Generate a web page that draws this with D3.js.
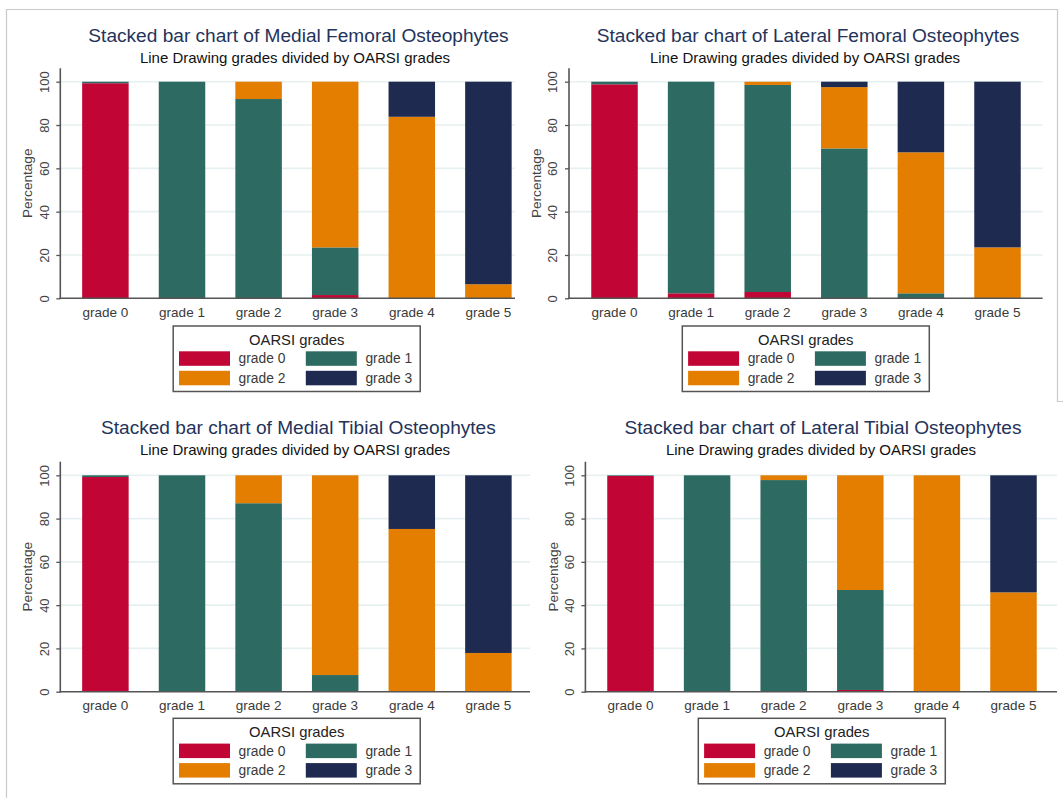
<!DOCTYPE html>
<html>
<head>
<meta charset="utf-8">
<script src="https://cdn.jsdelivr.net/npm/d3@7"></script>
<style>
  html, body { margin: 0; padding: 0; background: #ffffff; }
  svg { display: block; font-family: "Liberation Sans", Arial, sans-serif; }
</style>
</head>
<body>
<svg id="chart" width="1063" height="798"></svg>
<script>
// Line Drawing grades (x axis) and OARSI grades (stack series)
const categories = ["grade 0", "grade 1", "grade 2", "grade 3", "grade 4", "grade 5"];
const oarsiGrades = ["grade 0", "grade 1", "grade 2", "grade 3"];
const oarsiColors = ["#c10534", "#2d6b62", "#e37e00", "#1f2a50"];
const yTicks = [0, 20, 40, 60, 80, 100];

// Medial femoral: percentage of each OARSI grade per line drawing grade
const medFemG0 = [99.3, 0, 0, 1.5, 0, 0];
const medFemG1 = [0.7, 100, 92.0, 22.0, 0, 0];
const medFemG2 = [0, 0, 8.0, 76.5, 83.8, 6.5];
const medFemG3 = [0, 0, 0, 0, 16.2, 93.5];

// Lateral femoral
const latFemG0 = [98.8, 2.3, 2.9, 0, 0, 0];
const latFemG1 = [1.2, 97.7, 95.6, 69.2, 2.3, 0];
const latFemG2 = [0, 0, 1.5, 28.3, 65.1, 23.5];
const latFemG3 = [0, 0, 0, 2.5, 32.6, 76.5];

// Medial tibial
const medTibG0 = [99.2, 0, 0, 0, 0, 0];
const medTibG1 = [0.8, 100, 87.1, 7.7, 0, 0];
const medTibG2 = [0, 0, 12.9, 92.3, 75.2, 17.9];
const medTibG3 = [0, 0, 0, 0, 24.8, 82.1];

// Lateral tibial
const latTibG0 = [99.7, 0, 0, 0.8, 0, 0];
const latTibG1 = [0.3, 100, 97.8, 46.2, 0, 0];
const latTibG2 = [0, 0, 2.2, 53.0, 100, 45.9];
const latTibG3 = [0, 0, 0, 0, 0, 54.1];

const titles = [
  "Stacked bar chart of Medial Femoral Osteophytes",
  "Stacked bar chart of Lateral Femoral Osteophytes",
  "Stacked bar chart of Medial Tibial Osteophytes",
  "Stacked bar chart of Lateral Tibial Osteophytes"
];
const subtitle = "Line Drawing grades divided by OARSI grades";
const yAxisTitle = "Percentage";
const legendTitle = "OARSI grades";

const panelSeries = [
  [medFemG0, medFemG1, medFemG2, medFemG3],
  [latFemG0, latFemG1, latFemG2, latFemG3],
  [medTibG0, medTibG1, medTibG2, medTibG3],
  [latTibG0, latTibG1, latTibG2, latTibG3]
];

// Panel layout (each quadrant)
const layout = [
  { axisX: 60.3, axisEnd: 515, top: 68.3, y0: 298.3, y100: 81.7, c0: 105.4, titleX: 298.5, subX: 295, titleY: 41.7, subY: 62.5, legX: 173.2, legY: 326 },
  { axisX: 569, axisEnd: 1042.6, top: 68.3, y0: 298.3, y100: 81.7, c0: 614.5, titleX: 808, subX: 805, titleY: 41.7, subY: 62.5, legX: 682.3, legY: 326 },
  { axisX: 60.3, axisEnd: 530, top: 461.7, y0: 691.7, y100: 475.3, c0: 105.4, titleX: 298.4, subX: 295, titleY: 434.3, subY: 455, legX: 173.2, legY: 718.3 },
  { axisX: 585.4, axisEnd: 1057, top: 461.7, y0: 691.7, y100: 475.3, c0: 630.5, titleX: 823, subX: 821, titleY: 434.3, subY: 455, legX: 698.3, legY: 718.3 }
];
const step = 76.6;
const barW = 46.5;

const svg = d3.select("#chart");

// outer frame
const frame = svg.append("g").attr("fill", "none").attr("stroke", "#c9c9c9").attr("stroke-width", 1.2);
frame.append("path").attr("d", "M6.5,798 V9.5 H1057.5 V401.5 H1063");

layout.forEach((L, p) => {
  const g = svg.append("g");

  // table rows for stacking
  const rows = categories.map((c, i) => {
    const r = { cat: c };
    oarsiGrades.forEach((k, j) => { r[k] = panelSeries[p][j][i]; });
    return r;
  });
  const stacked = d3.stack().keys(oarsiGrades)(rows);

  const x = d3.scaleBand()
    .domain(categories)
    .range([L.c0 - step / 2, L.c0 + step * (categories.length - 0.5)])
    .paddingInner(1 - barW / step)
    .paddingOuter((1 - barW / step) / 2);
  const y = d3.scaleLinear().domain([0, 100]).range([L.y0, L.y100]);

  // gridlines
  g.append("g").selectAll("line")
    .data(yTicks.filter(t => t > 0))
    .join("line")
    .attr("x1", L.axisX).attr("x2", L.axisEnd)
    .attr("y1", d => y(d)).attr("y2", d => y(d))
    .attr("stroke", "#e6f0f1").attr("stroke-width", 1.6);

  // bars
  g.append("g").selectAll("g")
    .data(stacked)
    .join("g")
    .attr("fill", (d, i) => oarsiColors[i])
    .selectAll("rect")
    .data(d => d.filter(s => s[1] - s[0] > 0))
    .join("rect")
    .attr("x", d => x(d.data.cat))
    .attr("width", x.bandwidth())
    .attr("y", d => y(d[1]))
    .attr("height", d => y(d[0]) - y(d[1]));

  // y axis
  const yAxis = d3.axisLeft(y).tickValues(yTicks).tickSize(4).tickPadding(8);
  const ya = g.append("g").attr("transform", `translate(${L.axisX},0)`).call(yAxis);
  ya.select(".domain").remove();
  ya.selectAll(".tick line").attr("stroke", "#555").attr("stroke-width", 1.3);
  ya.selectAll(".tick text")
    .attr("transform", null)
    .attr("x", null).attr("dy", null)
    .attr("text-anchor", "middle")
    .attr("fill", "#444")
    .style("font-size", "13px")
    .attr("transform", d => `translate(-16.2,0) rotate(-90)`)
    .attr("dy", "0.35em");
  g.append("line")
    .attr("x1", L.axisX).attr("x2", L.axisX)
    .attr("y1", L.top).attr("y2", L.y0 + 0.8)
    .attr("stroke", "#555").attr("stroke-width", 1.6);

  // x axis
  const xAxis = d3.axisBottom(x).tickSize(0).tickPadding(0);
  const xa = g.append("g").attr("transform", `translate(0,${L.y0})`).call(xAxis);
  xa.select(".domain").remove();
  xa.selectAll(".tick text")
    .attr("y", 18.4).attr("dy", null)
    .attr("fill", "#3a3a3a")
    .style("font-size", "13.5px");
  g.append("line")
    .attr("x1", L.axisX - 0.8).attr("x2", L.axisEnd)
    .attr("y1", L.y0).attr("y2", L.y0)
    .attr("stroke", "#555").attr("stroke-width", 1.6);

  // y axis title
  g.append("text")
    .attr("transform", `translate(${L.axisX - 32.6},${(L.top + L.y0) / 2}) rotate(-90)`)
    .attr("text-anchor", "middle")
    .attr("dy", "0.35em")
    .attr("fill", "#444")
    .style("font-size", "13.6px")
    .text(yAxisTitle);

  // titles
  g.append("text")
    .attr("x", L.titleX).attr("y", L.titleY)
    .attr("text-anchor", "middle")
    .attr("fill", "#24335a")
    .style("font-size", "19.1px")
    .text(titles[p]);
  g.append("text")
    .attr("x", L.subX).attr("y", L.subY)
    .attr("text-anchor", "middle")
    .attr("fill", "#111")
    .style("font-size", "15px")
    .text(subtitle);

  // legend
  const lg = g.append("g").attr("transform", `translate(${L.legX},${L.legY})`);
  lg.append("rect")
    .attr("x", 0).attr("y", 0).attr("width", 247).attr("height", 65.5)
    .attr("fill", "#fff").attr("stroke", "#555").attr("stroke-width", 1.5);
  lg.append("text")
    .attr("x", 123.5).attr("y", 13.8)
    .attr("dy", "0.35em")
    .attr("text-anchor", "middle")
    .attr("fill", "#222")
    .style("font-size", "14.8px")
    .text(legendTitle);
  const item = lg.selectAll("g.item")
    .data(oarsiGrades)
    .join("g")
    .attr("class", "item")
    .attr("transform", (d, i) => `translate(${(i % 2) * 126.8},${Math.floor(i / 2) * 19.5})`);
  item.append("rect")
    .attr("x", 5.8).attr("y", 25.3)
    .attr("width", 51).attr("height", 14.5)
    .attr("fill", (d, i) => oarsiColors[i]);
  item.append("text")
    .attr("x", 65.4).attr("y", 32.6)
    .attr("dy", "0.35em")
    .attr("fill", "#3a3a3a")
    .style("font-size", "13.8px")
    .text(d => d);
});
</script>
</body>
</html>
